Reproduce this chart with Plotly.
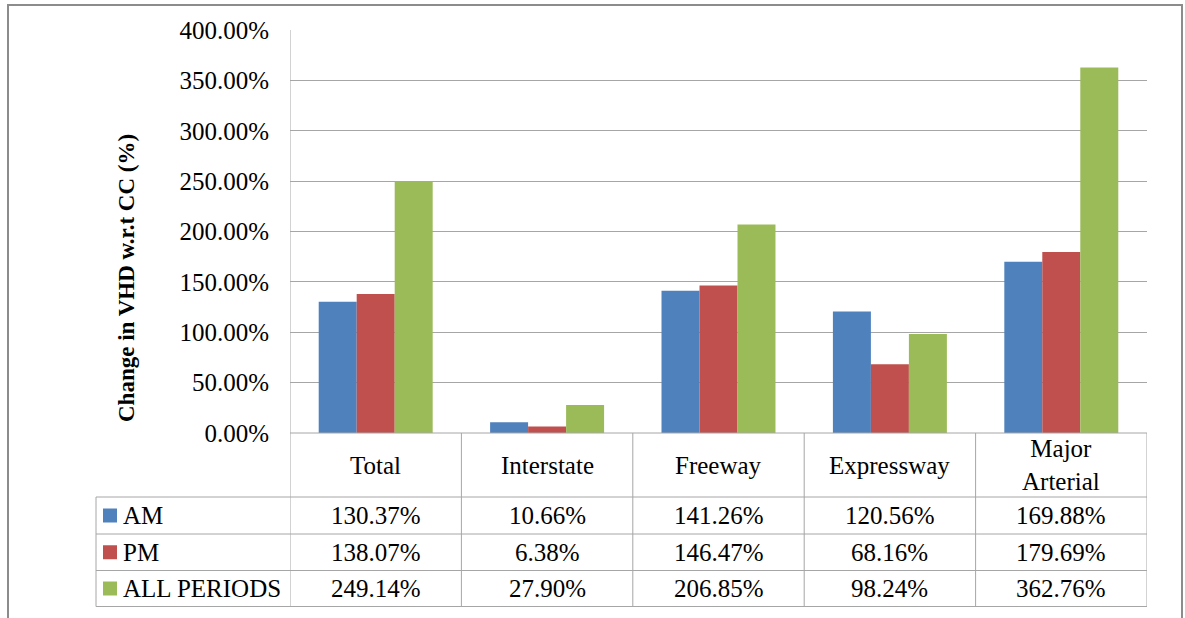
import plotly.graph_objects as go

categories = ["Total", "Interstate", "Freeway", "Expressway", "Major<br>Arterial"]
series_names = ["AM", "PM", "ALL PERIODS"]
am = [130.37, 10.66, 141.26, 120.56, 169.88]
pm = [138.07, 6.38, 146.47, 68.16, 179.69]
all_periods = [249.14, 27.90, 206.85, 98.24, 362.76]
colors = ["#4F81BD", "#C0504D", "#9BBB59"]
y_ticks = [0, 50, 100, 150, 200, 250, 300, 350, 400]

W, H = 1185, 618
L, R, T, B = 290, 38, 30, 185
PW, PH = W - L - R, H - T - B
FONT = "'Liberation Serif', 'Times New Roman', 'DejaVu Serif', serif"
LINE = "#a6a6a6"


def px(X):
    return (X - L) / PW


def py(Y):
    return (H - B - Y) / PH


series = [am, pm, all_periods]
xs = list(range(len(categories)))

fig = go.Figure()
for name, vals, col in zip(series_names, series, colors):
    fig.add_trace(go.Bar(x=xs, y=vals, name=name, marker=dict(color=col, line=dict(width=0)),
                         showlegend=False))

shapes = []
# outer chart border
shapes.append(dict(type="rect", xref="paper", yref="paper", x0=px(8), x1=px(1182), y0=py(640), y1=py(5),
                   line=dict(color="#8c8c8c", width=2), layer="below"))
# axis line (left)
shapes.append(dict(type="line", xref="x", yref="paper", x0=-0.5, x1=-0.5, y0=py(606.5), y1=1,
                   line=dict(color=LINE, width=1)))
# vertical table lines
for i in range(len(categories)):
    shapes.append(dict(type="line", xref="x", yref="paper", x0=i + 0.5, x1=i + 0.5, y0=py(606.5), y1=0,
                       line=dict(color=LINE, width=1)))
# legend column left line
shapes.append(dict(type="line", xref="paper", yref="paper", x0=px(96), x1=px(96), y0=py(606.5), y1=py(497),
                   line=dict(color=LINE, width=1)))
# horizontal table lines
row_edges = [497, 534, 570.5, 606.5]
for Y in row_edges:
    shapes.append(dict(type="line", xref="paper", yref="paper", x0=px(96), x1=1, y0=py(Y), y1=py(Y),
                       line=dict(color=LINE, width=1)))
shapes.append(dict(type="line", xref="paper", yref="paper", x0=0, x1=1, y0=0, y1=0,
                   line=dict(color=LINE, width=1)))

annotations = []
# header labels
for i, c in enumerate(categories):
    annotations.append(dict(x=i, xref="x", y=py(465), yref="paper", text=c, showarrow=False,
                            font=dict(family=FONT, size=25, color="black"), yanchor="middle",
                            xanchor="center"))
# rows
for r, (name, vals, col) in enumerate(zip(series_names, series, colors)):
    yc = (row_edges[r] + row_edges[r + 1]) / 2
    shapes.append(dict(type="rect", xref="paper", yref="paper", x0=px(103), x1=px(117),
                       y0=py(yc + 7), y1=py(yc - 7), fillcolor=col, line=dict(width=0)))
    annotations.append(dict(x=px(121), xref="paper", y=py(yc), yref="paper", text=name, showarrow=False,
                            xanchor="left", yanchor="middle", font=dict(family=FONT, size=25, color="black")))
    for i, v in enumerate(vals):
        annotations.append(dict(x=i, xref="x", y=py(yc), yref="paper", text=f"{v:.2f}%", showarrow=False,
                                xanchor="center", yanchor="middle",
                                font=dict(family=FONT, size=25, color="black")))
# y-axis title
annotations.append(dict(x=px(126), xref="paper", y=py(278), yref="paper",
                        text="<b>Change in VHD w.r.t CC (%)</b>", textangle=-90, showarrow=False,
                        xanchor="center", yanchor="middle", font=dict(family=FONT, size=23, color="black")))

fig.update_layout(
    width=W, height=H,
    margin=dict(l=L, r=R, t=T, b=B, pad=0),
    paper_bgcolor="white", plot_bgcolor="white",
    barmode="group", bargap=0.335, bargroupgap=0,
    shapes=shapes, annotations=annotations,
    font=dict(family=FONT, size=25, color="black"),
    xaxis=dict(type="linear", range=[-0.5, len(categories) - 0.5], showticklabels=False, showgrid=False,
               zeroline=False, showline=False, ticks="", fixedrange=True),
    yaxis=dict(range=[0, 400], tickvals=y_ticks, ticktext=[f"{v:.2f}%" for v in y_ticks],
               showgrid=True, gridcolor=LINE, gridwidth=1, zeroline=False, showline=False, ticks="",
               ticklabelstandoff=20, tickfont=dict(family=FONT, size=25, color="black")),
)

fig.write_html("out.html")
